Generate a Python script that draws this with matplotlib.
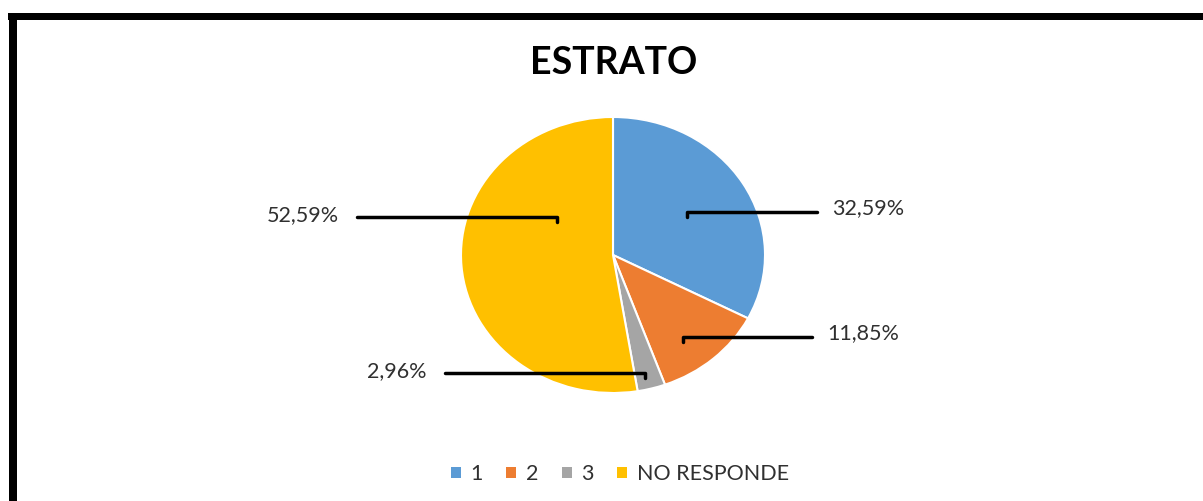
import numpy as np
import matplotlib.pyplot as plt
from matplotlib.patches import Rectangle

# datos
categorias = ['1', '2', '3', 'NO RESPONDE']
conteos = [44, 16, 4, 71]
colores = ['#5B9BD5', '#ED7D31', '#A5A5A5', '#FFC000']
titulo = 'ESTRATO'

W, H = 1203, 501
plt.rcParams['font.family'] = ['Lato', 'DejaVu Sans']

fig = plt.figure(figsize=(W / 100, H / 100), dpi=100)
fig.patch.set_facecolor('white')

# pie box in pixels (left, top, right, bottom) - the original is stretched horizontally
pl, pt, pr, pb = 461, 117, 765, 393
ax = fig.add_axes([pl / W, 1 - pb / H, (pr - pl) / W, (pb - pt) / H])
wedges, _ = ax.pie(conteos, colors=colores, startangle=90, counterclock=False,
                   wedgeprops=dict(edgecolor='white', linewidth=1.5))
ax.set_aspect('auto')
ax.set_xlim(-1, 1)
ax.set_ylim(-1, 1)
ax.axis('off')

# overlay in pixel coords for leader lines, labels and border
ov = fig.add_axes([0, 0, 1, 1], zorder=5)
ov.set_xlim(0, W)
ov.set_ylim(H, 0)
ov.axis('off')
ov.patch.set_alpha(0)

total = sum(conteos)
pct = [f"{100 * c / total:.2f}".replace('.', ',') + '%' for c in conteos]

# leader layout: (anchor x at pie, line y, far x, text side)
leaders = [
    (687, 212, 817, 'right'),
    (683, 337, 812, 'right'),
    (645, 373, 445, 'left'),
    (557, 217, 357, 'left'),
]
for (ax_, ly, fx, side), txt in zip(leaders, pct):
    ov.plot([fx, ax_, ax_], [ly, ly, ly + 5], color='black', lw=2.5,
            solid_capstyle='round', solid_joinstyle='round')
    if side == 'right':
        ov.text(fx + 15, ly - 4, txt, ha='left', va='center', fontsize=15.5, color='#303030')
    else:
        ov.text(fx - 18, ly - 2, txt, ha='right', va='center', fontsize=15.5, color='#303030')

# title
ov.text(614, 63, titulo, ha='center', va='center', fontsize=27, fontweight='bold', color='black')

# border (top and left)
ov.add_patch(Rectangle((8, 12.5), W - 8, 7, color='black', lw=0))
ov.add_patch(Rectangle((8.5, 12.5), 8, H - 12.5, color='black', lw=0))

leg = fig.legend(wedges, categorias, loc='center', ncol=4,
                 bbox_to_anchor=(620 / W, 1 - 474 / H), frameon=False,
                 fontsize=15.5, handlelength=0.45, handleheight=0.45,
                 handletextpad=0.45, columnspacing=1.1)
for t in leg.get_texts():
    t.set_color('#303030')
for h in leg.legend_handles:
    h.set_edgecolor('none')

fig.savefig('out.png', dpi=100, facecolor='white')
